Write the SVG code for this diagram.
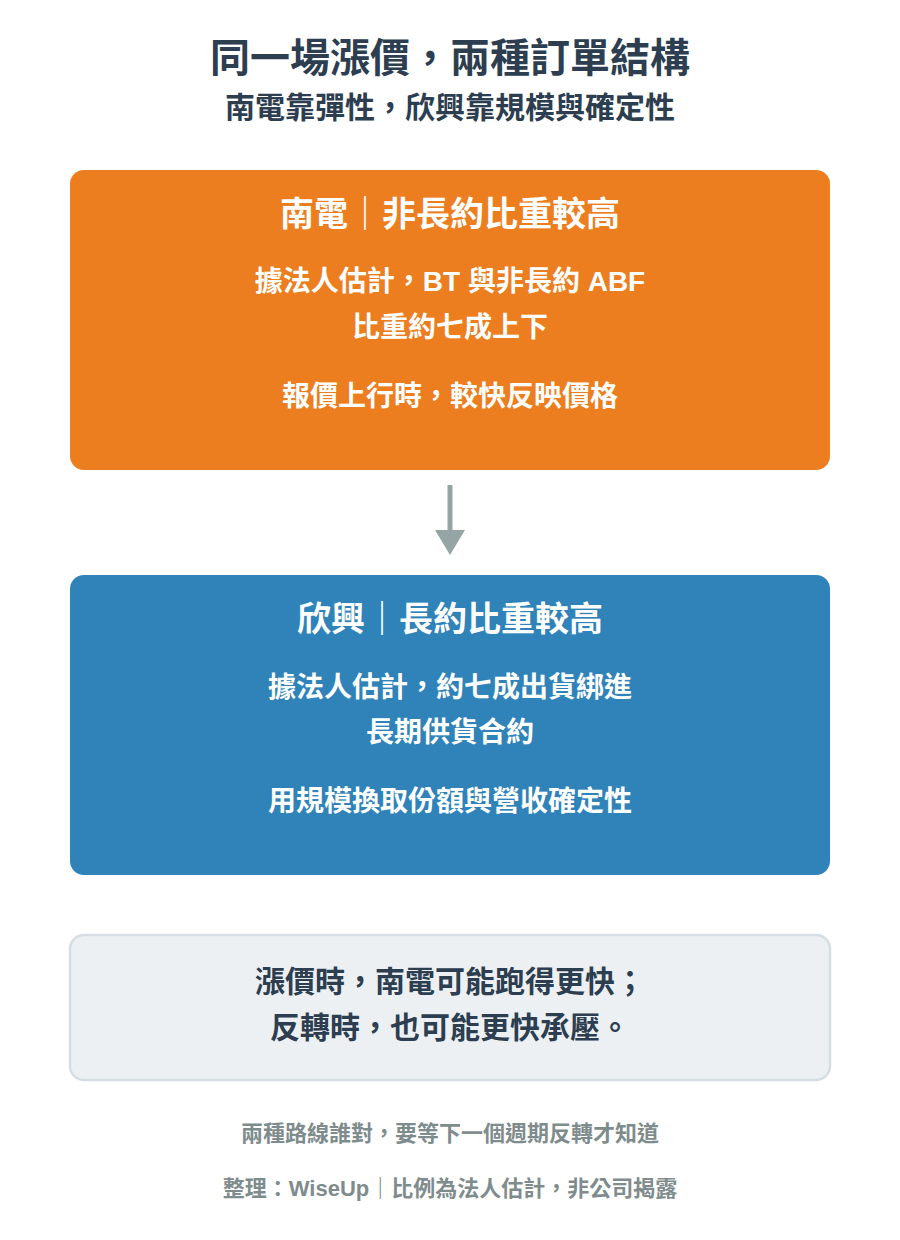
<svg xmlns="http://www.w3.org/2000/svg" width="900" height="1240" viewBox="0 0 900 1240">
<style>
text{font-family:"Liberation Sans","Noto Sans CJK TC","Noto Sans CJK SC",sans-serif;font-weight:bold;text-anchor:middle}
.t{font-size:40px;fill:#2c3e50}
.st{font-size:30px;fill:#2c3e50}
.bt{font-size:34px;fill:#ffffff}
.bb{font-size:28px;fill:#ffffff}
.nt{font-size:30px;fill:#2c3e50}
.ft{font-size:22px;fill:#7f8c8d}
</style>
<rect width="900" height="1240" fill="#ffffff"/>
<g id="header">
<text class="t" x="450" y="72">同一場漲價，兩種訂單結構</text>
<text class="st" x="450" y="118">南電靠彈性，欣興靠規模與確定性</text>
</g>
<g id="node-nandian">
<rect x="70" y="170" width="760" height="300" rx="14" fill="#ec7e1f"/>
<text class="bt" x="450" y="226">南電｜非長約比重較高</text>
<text class="bb" x="450" y="291">據法人估計，BT 與非長約 ABF</text>
<text class="bb" x="450" y="337">比重約七成上下</text>
<text class="bb" x="450" y="406">報價上行時，較快反映價格</text>
</g>
<g id="connectors">
<line x1="450" y1="485" x2="450" y2="532" stroke="#95a5a6" stroke-width="5"/>
<polygon points="435,530 465,530 450,555" fill="#95a5a6"/>
</g>
<g id="node-unimicron">
<rect x="70" y="575" width="760" height="300" rx="14" fill="#2f83b9"/>
<text class="bt" x="450" y="631">欣興｜長約比重較高</text>
<text class="bb" x="450" y="697">據法人估計，約七成出貨綁進</text>
<text class="bb" x="450" y="742">長期供貨合約</text>
<text class="bb" x="450" y="811">用規模換取份額與營收確定性</text>
</g>
<g id="node-note">
<rect x="70" y="935" width="760" height="145" rx="14" fill="#ecf0f3" stroke="#d5dee3" stroke-width="2.5"/>
<text class="nt" x="450" y="992">漲價時，南電可能跑得更快；</text>
<text class="nt" x="450" y="1038">反轉時，也可能更快承壓。</text>
</g>
<g id="footer">
<text class="ft" x="450" y="1141">兩種路線誰對，要等下一個週期反轉才知道</text>
<text class="ft" x="450" y="1196">整理：WiseUp｜比例為法人估計，非公司揭露</text>
</g>
</svg>
